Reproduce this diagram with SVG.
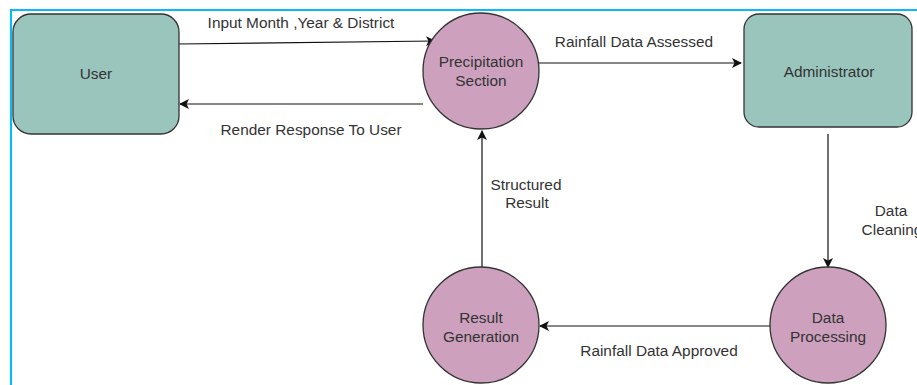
<svg xmlns="http://www.w3.org/2000/svg" width="917" height="385" viewBox="0 0 917 385">
<defs>
<style>
.box{fill:#9AC5BD;stroke:#333;stroke-width:1.3}
.proc{fill:#CDA1BE;stroke:#333;stroke-width:1.3}
.lbl{font-family:"Liberation Sans",Arial,sans-serif;font-size:15.4px;fill:#333;text-anchor:middle}
.edge{fill:none;stroke:#111;stroke-width:1.2}
</style>
<marker id="arr" viewBox="0 0 10 10" refX="9" refY="5" markerWidth="10" markerHeight="10" markerUnits="userSpaceOnUse" orient="auto">
<path d="M0,0 L10,5 L0,10 L2.5,5 Z" fill="#111"/>
</marker>
</defs>
<rect x="0" y="0" width="917" height="385" fill="#fff"/>
<path d="M11,385 V10 H917" fill="none" stroke="#0BBAF5" stroke-width="2.2"/>
<g id="connectors">
<path class="edge" d="M179,44 L435,41" marker-end="url(#arr)"/>
<path class="edge" d="M423,104 L180,104" marker-end="url(#arr)"/>
<path class="edge" d="M539,63 L741,63" marker-end="url(#arr)"/>
<path class="edge" d="M828,134 L828,267" marker-end="url(#arr)"/>
<path class="edge" d="M771,326 L540,326" marker-end="url(#arr)"/>
<path class="edge" d="M482,267 L482,131" marker-end="url(#arr)"/>
<text class="lbl" x="301" y="28">Input Month ,Year &amp; District</text>
<text class="lbl" x="311" y="135">Render Response To User</text>
<text class="lbl" x="634" y="47">Rainfall Data Assessed</text>
<text class="lbl" x="526" y="190">Structured</text>
<text class="lbl" x="527" y="208">Result</text>
<text class="lbl" x="891" y="216">Data</text>
<text class="lbl" x="892" y="235">Cleaning</text>
<text class="lbl" x="659" y="356">Rainfall Data Approved</text>
</g>
<g id="user">
<rect class="box" x="13" y="14" width="166" height="120" rx="18"/>
<text class="lbl" x="96" y="79">User</text>
</g>
<g id="precipitation-section">
<circle class="proc" cx="481" cy="71" r="58"/>
<text class="lbl" x="481" y="67">Precipitation</text>
<text class="lbl" x="481" y="86">Section</text>
</g>
<g id="administrator">
<rect class="box" x="744" y="14" width="168" height="113" rx="15"/>
<text class="lbl" x="829" y="77">Administrator</text>
</g>
<g id="data-processing">
<circle class="proc" cx="828" cy="325" r="58"/>
<text class="lbl" x="828" y="323">Data</text>
<text class="lbl" x="828" y="342">Processing</text>
</g>
<g id="result-generation">
<circle class="proc" cx="481" cy="325" r="58"/>
<text class="lbl" x="481" y="323">Result</text>
<text class="lbl" x="481" y="342">Generation</text>
</g>
</svg>
